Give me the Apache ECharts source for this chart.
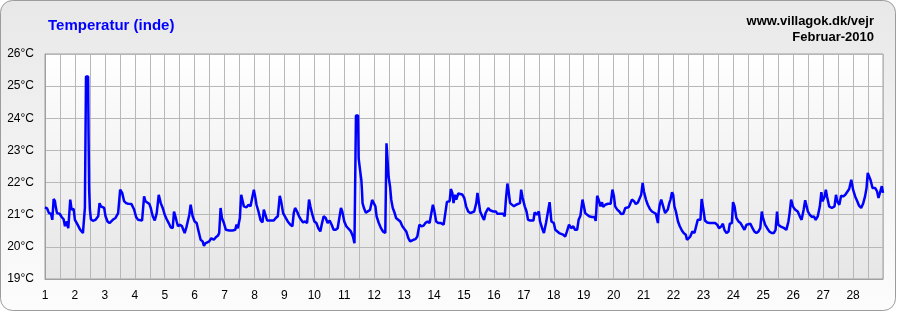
<!DOCTYPE html>
<html>
<head>
<meta charset="utf-8">
<script src="https://cdn.jsdelivr.net/npm/echarts@6/dist/echarts.min.js"></script>
<style>
html,body{margin:0;padding:0;background:#fff;}
#c{width:897px;height:312px;}
</style>
</head>
<body>
<div id="c"></div>
<script>
// Day of February 2010 (fractional) and indoor temperature (°C)
const times = [
1.000,1.067,1.133,1.200,1.244,1.289,1.333,1.356,1.400,1.489,1.556,1.622,1.667,1.711,1.778,1.844,1.889,1.956,
2.000,2.089,2.178,2.267,2.333,2.370,2.440,2.455,2.475,2.500,2.533,2.600,2.689,2.778,2.822,2.867,2.911,2.978,
3.022,3.089,3.156,3.222,3.289,3.356,3.444,3.511,3.578,3.644,3.711,3.778,3.889,3.978,
4.044,4.111,4.244,4.311,4.356,4.422,4.489,4.533,4.600,4.667,4.733,4.800,4.867,4.933,
5.000,5.067,5.133,5.200,5.267,5.311,5.356,5.400,5.444,5.511,5.578,5.622,5.667,5.733,5.822,5.867,5.933,
6.000,6.067,6.133,6.200,6.267,6.311,6.356,6.422,6.489,6.556,6.640,6.710,6.780,6.820,6.867,6.911,6.978,
7.044,7.156,7.267,7.356,7.400,7.444,7.511,7.556,7.600,7.644,7.733,7.800,7.867,7.933,7.978,
8.022,8.067,8.133,8.200,8.267,8.311,8.356,8.422,8.511,8.644,8.711,8.778,8.844,8.889,8.956,
9.044,9.111,9.200,9.267,9.311,9.356,9.422,9.489,9.556,9.622,9.689,9.756,9.822,9.867,9.933,
10.000,10.067,10.133,10.200,10.244,10.311,10.378,10.444,10.511,10.578,10.644,10.711,10.778,10.844,10.889,10.933,
11.000,11.067,11.133,11.222,11.289,11.340,11.390,11.460,11.480,11.520,11.570,11.590,11.610,11.660,11.720,11.860,11.930,11.990,
12.040,12.080,12.150,12.220,12.300,12.370,12.410,12.460,12.480,12.530,12.570,12.620,12.680,12.730,12.790,12.870,12.940,
13.000,13.070,13.140,13.200,13.250,13.310,13.380,13.440,13.510,13.580,13.650,13.710,13.780,13.850,13.910,13.960,
14.000,14.070,14.140,14.230,14.320,14.380,14.430,14.520,14.560,14.610,14.650,14.700,14.740,14.810,14.940,
15.010,15.070,15.140,15.210,15.270,15.340,15.410,15.450,15.500,15.540,15.610,15.670,15.720,15.760,15.810,15.870,15.980,
16.070,16.110,16.200,16.310,16.360,16.400,16.450,16.490,16.540,16.600,16.670,16.740,16.800,16.870,16.910,16.960,
17.030,17.090,17.140,17.210,17.320,17.360,17.430,17.500,17.540,17.610,17.670,17.740,17.790,17.860,17.920,17.960,
18.000,18.050,18.110,18.180,18.240,18.310,18.380,18.440,18.510,18.580,18.650,18.710,18.780,18.830,18.890,18.960,
19.000,19.050,19.110,19.180,19.270,19.360,19.400,19.450,19.490,19.560,19.610,19.650,19.720,19.810,19.900,19.960,
20.010,20.050,20.120,20.190,20.250,20.320,20.390,20.500,20.540,20.610,20.680,20.740,20.810,20.860,20.920,20.970,
21.010,21.080,21.140,21.210,21.280,21.340,21.410,21.450,21.480,21.500,21.540,21.590,21.650,21.720,21.770,21.810,21.860,21.900,21.950,21.990,
22.030,22.080,22.150,22.210,22.280,22.340,22.410,22.450,22.500,22.560,22.630,22.700,22.760,22.810,22.850,22.900,22.940,22.990,
23.050,23.120,23.210,23.320,23.390,23.460,23.520,23.600,23.650,23.700,23.770,23.840,23.880,23.950,23.990,
24.040,24.100,24.170,24.240,24.300,24.370,24.440,24.500,24.570,24.640,24.700,24.770,24.840,24.900,24.950,24.990,
25.060,25.130,25.200,25.280,25.350,25.410,25.460,25.500,25.570,25.630,25.700,25.770,25.840,25.880,25.930,25.990,
26.060,26.150,26.220,26.280,26.350,26.400,26.440,26.490,26.550,26.620,26.690,26.750,26.820,26.890,26.940,26.980,
27.050,27.090,27.130,27.200,27.290,27.380,27.430,27.470,27.540,27.600,27.670,27.740,27.800,27.870,27.940,
28.000,28.070,28.140,28.200,28.270,28.340,28.400,28.450,28.490,28.540,28.580,28.650,28.740,28.800,28.850,28.910,28.960,29.000
];
const temps = [
21.23,21.20,21.05,21.03,20.84,21.49,21.42,21.26,21.05,21.03,20.93,20.86,20.64,20.79,20.58,21.47,21.16,21.18,
20.84,20.69,20.53,20.43,21.21,25.30,25.30,23.50,21.78,21.16,20.86,20.81,20.84,20.95,21.36,21.26,21.21,21.21,
20.95,20.79,20.74,20.72,20.86,20.90,21.05,21.78,21.68,21.42,21.36,21.34,21.33,21.16,
20.93,20.84,20.82,21.57,21.42,21.47,21.33,21.21,20.95,20.82,21.05,21.62,21.36,21.21,
21.00,20.86,20.74,20.61,20.58,21.10,20.95,20.79,20.64,20.69,20.64,20.53,20.43,20.64,21.00,21.31,20.95,
20.79,20.74,20.48,20.22,20.17,20.03,20.11,20.11,20.17,20.27,20.22,20.30,20.35,20.43,21.21,20.90,20.74,
20.53,20.51,20.51,20.53,20.69,20.58,20.90,21.62,21.62,21.26,21.23,21.31,21.26,21.26,21.78,
21.57,21.31,21.10,20.84,20.76,21.16,21.18,20.82,20.82,20.82,20.90,20.95,21.59,21.42,21.05,
20.90,20.79,20.69,20.64,21.05,21.21,21.10,20.95,20.84,20.76,20.79,20.74,21.47,21.26,21.00,
20.79,20.74,20.58,20.48,20.69,20.95,20.90,20.74,20.82,20.69,20.53,20.53,20.58,20.64,21.21,21.10,
20.79,20.64,20.58,20.48,20.32,20.11,24.09,24.09,22.75,22.44,22.08,21.77,21.36,21.20,21.06,21.15,21.46,21.46,
21.26,20.95,20.75,20.59,20.47,20.43,23.22,23.22,22.18,21.87,21.46,21.21,21.06,20.90,20.84,20.79,20.64,
20.58,20.48,20.27,20.17,20.11,20.22,20.24,20.32,20.69,20.64,20.66,20.74,20.79,20.74,20.79,21.31,
21.16,20.79,20.74,20.74,20.69,20.64,21.40,21.42,21.80,21.68,21.36,21.62,21.47,21.66,21.63,
21.52,21.26,21.10,21.05,21.03,21.10,21.36,21.68,21.36,21.10,20.95,20.84,21.05,21.00,21.21,21.14,21.10,
21.10,21.03,21.03,21.03,20.95,21.47,21.97,21.73,21.36,21.31,21.26,21.31,21.26,21.36,21.78,21.52,
21.26,21.10,20.84,20.82,20.82,21.07,21.00,21.10,20.79,20.58,20.43,20.74,20.79,21.39,20.79,20.84,
20.74,20.53,20.51,20.43,20.45,20.38,20.32,20.48,20.69,20.58,20.64,20.53,20.53,20.84,20.97,21.47,
21.42,21.05,21.05,20.95,20.93,20.93,20.81,21.59,21.49,21.26,21.39,21.24,21.31,21.34,21.34,21.78,
21.57,21.26,21.16,21.10,21.02,21.03,21.21,21.23,21.31,21.47,21.42,21.33,21.38,21.49,21.62,21.99,
21.73,21.47,21.31,21.18,21.10,21.05,21.03,21.00,20.74,21.05,21.31,21.47,21.42,21.05,21.00,21.16,21.36,21.47,21.70,21.62,
21.26,21.10,20.79,20.64,20.51,20.43,20.38,20.22,20.27,20.32,20.48,20.43,20.48,20.84,20.86,20.84,21.49,21.21,
20.82,20.76,20.74,20.74,20.74,20.69,20.58,20.64,20.72,20.53,20.43,20.48,20.72,20.74,21.39,
21.26,20.90,20.79,20.74,20.69,20.53,20.69,20.64,20.72,20.58,20.48,20.43,20.48,20.58,21.10,20.90,
20.69,20.58,20.48,20.43,20.43,20.53,21.10,20.69,20.64,20.69,20.58,20.53,20.79,21.05,21.47,21.26,
21.16,21.10,20.95,20.84,21.16,21.45,21.42,21.10,21.00,20.93,20.95,20.84,20.95,21.26,21.70,21.42,
21.57,21.78,21.57,21.26,21.21,21.26,21.62,21.42,21.31,21.59,21.57,21.62,21.68,21.80,22.09,
21.78,21.57,21.42,21.28,21.21,21.36,21.57,21.83,22.30,22.25,22.09,21.83,21.83,21.73,21.52,21.55,21.89,21.68
];
const yMin = 19, yMax = 26;
const xMin = 1, xMax = 29;
const titleText = 'Temperatur (inde)';
const siteText = 'www.villagok.dk/vejr\nFebruar-2010';

const data = times.map((t, i) => [t, temps[i]]);
const FONT = '"Liberation Sans", Arial, sans-serif';

const chart = echarts.init(document.getElementById('c'), null, {renderer: 'canvas'});
chart.setOption({
  animation: false,
  backgroundColor: '#ffffff',
  graphic: [
    {
      type: 'rect', z: -100, silent: true,
      shape: {x: 0.5, y: 0.5, width: 895, height: 310, r: 12},
      style: {
        fill: new echarts.graphic.LinearGradient(0, 0, 0, 1, [
          {offset: 0, color: '#e8e8e8'}, {offset: 1, color: '#fcfcfc'}
        ]),
        stroke: '#9c9c9c', lineWidth: 1
      }
    },
    {
      type: 'text', left: 48, top: 18, z: 10,
      style: {text: titleText, font: 'bold 15px ' + FONT, fill: '#0000ff'}
    },
    {
      type: 'text', right: 23, top: 13, z: 10,
      style: {text: siteText, font: 'bold 13px ' + FONT, fill: '#000000', textAlign: 'right', lineHeight: 16}
    }
  ],
  grid: {
    left: 45, right: 14, top: 54, bottom: 33,
    show: true,
    borderColor: '#a0a0a0', borderWidth: 1,
    backgroundColor: new echarts.graphic.LinearGradient(0, 0, 0, 1, [
      {offset: 0, color: '#ffffff'}, {offset: 1, color: '#e6e6e6'}
    ])
  },
  xAxis: {
    type: 'value', min: xMin, max: xMax, interval: 0.5,
    axisLine: {show: true, lineStyle: {color: '#a0a0a0'}},
    axisTick: {show: false},
    splitLine: {show: true, lineStyle: {color: '#b8b8b8', width: 1}},
    axisLabel: {
      color: '#000', fontSize: 12, fontFamily: FONT, margin: 11,
      showMaxLabel: false,
      formatter: v => (Math.abs(v - Math.round(v)) < 1e-6 && v < xMax) ? String(Math.round(v)) : ''
    }
  },
  yAxis: {
    type: 'value', min: yMin, max: yMax, interval: 1,
    axisLine: {show: true, lineStyle: {color: '#a0a0a0'}},
    axisTick: {show: false},
    splitLine: {show: true, lineStyle: {color: '#b8b8b8', width: 1}},
    axisLabel: {color: '#000', fontSize: 12, fontFamily: FONT, margin: 11, formatter: '{value}°C'}
  },
  series: [{
    type: 'line', data: data, showSymbol: false, symbol: 'none',
    lineStyle: {color: '#0000ff', width: 2.5}, clip: true
  }]
});
</script>
</body>
</html>
